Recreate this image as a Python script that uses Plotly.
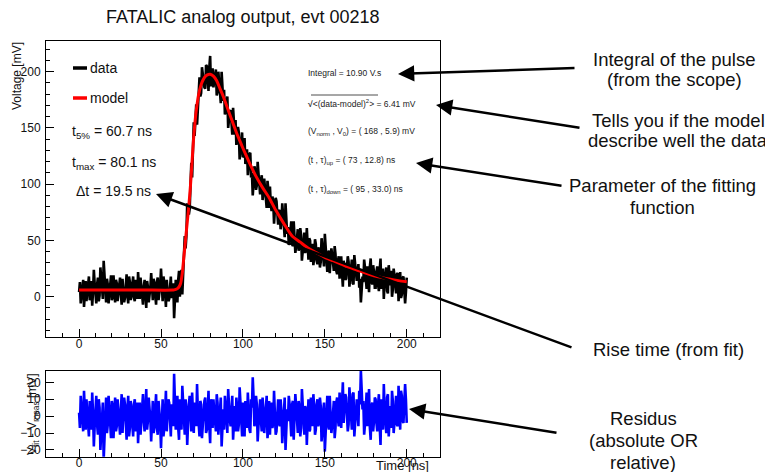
import plotly.graph_objects as go

# the page body has an 8 px margin, so the figure is drawn 8 px in from the window corner
OFF = 8
W, H = 773 - OFF, 472 - OFF

# ---------------- data (scope samples every 0.5 ns) ----------------
time_int = list(range(0, 201))                       # 0, 1, ..., 200 ns
time_half = [t + 0.5 for t in range(0, 200)]         # 0.5, 1.5, ..., 199.5 ns

data_int = [
    4, -6, 9, -9, 14, 2, 18, 0, -8, 24, -2, 11, -4, 26, 3, 32, -1, 16, -6, 10,
    -3, 19, -5, 12, 4, 17, -7, 8, -1, 20, -6, 13, 1, 18, -4, 5, 22, -2, 10, -7,
    15, -10, 9, 0, 21, -3, 12, -7, 17, 2, 25, -4, 13, -9, 8, -2, 18, 1, -19, 15,
    -5, 23, 10, 2, 43, 43, 83, 73, 100, 106, 155, 155, 153, 187, 178, 204, 192, 185, 205, 183,
    214, 191, 186, 198, 179, 200, 178, 200, 174, 162, 177, 150, 164, 149, 168, 144, 135, 151, 122, 140,
    124, 141, 122, 108, 127, 106, 90, 116, 95, 120, 97, 103, 86, 105, 85, 103, 79, 83, 89, 65,
    88, 69, 76, 60, 83, 57, 83, 56, 46, 65, 47, 67, 39, 56, 41, 61, 32, 49, 39, 61,
    33, 50, 37, 28, 51, 32, 44, 26, 52, 33, 56, 26, 39, 21, 43, 26, 45, 23, 32, 16,
    36, 9, 23, 16, 36, 9, 30, 12, 37, 15, 21, 8, -5, 18, 33, 9, 27, 4, 34, 11,
    22, 8, 27, 5, 34, 12, -2, 23, 5, 28, 10, 0, 25, 6, 20, -4, 22, 2, 18, -6,
    17,
]
data_half = [
    13, 2, 15, 0, -4, 9, -3, 14, 4, 12, -6, 17, 1, 14, -2, 18, -5, 11, 3, 19,
    0, 8, 15, -4, 12, 2, 16, -5, 10, 1, 18, -3, 11, -1, 15, -2, 10, 17, 0, 9,
    2, 14, -5, 8, 3, 16, 1, 13, -3, 10, 0, 18, 3, 15, -4, 11, -1, 12, -3, 3,
    15, 0, 24, 22, 54, 54, 76, 78, 119, 127, 143, 171, 173, 195, 181, 196, 186, 206, 193, 204,
    187, 203, 192, 202, 182, 190, 172, 185, 184, 166, 178, 159, 166, 144, 155, 157, 140, 146, 129, 146,
    125, 118, 131, 119, 128, 110, 101, 113, 99, 110, 91, 108, 92, 97, 79, 96, 98, 76, 85, 73,
    85, 64, 77, 66, 71, 53, 70, 62, 50, 67, 45, 56, 45, 60, 44, 55, 39, 57, 41, 46,
    52, 31, 47, 35, 47, 29, 41, 31, 45, 27, 41, 22, 41, 29, 37, 23, 38, 20, 36, 26,
    21, 32, 15, 25, 31, 17, 33, 11, 27, 14, 29, 16, 10, 13, 26, 7, 17, 27, 13, 28,
    8, 22, 11, 24, 7, 25, 13, 26, 3, 18, 23, 6, 19, 3, 21, 9, -1, 17, 6, 4,
]

resid_int = [
    2, 12, -3, 15, -8, 4, -12, 6, 14, -18, 8, -5, 10, -20, 3, -26, 7, -10, 12, -4,
    9, -13, 11, -6, 2, -11, 13, -2, 7, -14, 12, -7, 5, -12, 10, 1, -16, 8, -4, 13,
    -9, 16, -3, 6, -15, 9, -6, 13, -11, 4, -19, 10, -7, 15, -2, 8, -12, 5, 25, -8,
    12, -14, 3, 18, -5, 10, -17, 7, -3, 14, -10, 5, 19, -6, 9, -13, 2, 11, -8, 15,
    -16, 6, 10, -4, 13, -11, 7, -18, 4, 12, -7, 16, -2, 9, -14, 6, 11, -9, 17, -5,
    8, -12, 3, 14, -8, 10, 23, -6, 12, -15, 5, -3, 11, -10, 7, -13, 9, 2, -7, 15,
    -11, 6, -4, 10, -16, 8, -20, 4, 12, -9, 7, -14, 13, -5, 9, -12, 16, -3, 6, -17,
    10, -8, 4, 13, -11, 7, -6, 11, -15, 3, -21, 9, -5, 12, -10, 6, -13, 8, -2, 14,
    -7, 20, 5, 11, -9, 17, -4, 13, -12, 9, 3, 15, 27, 4, -11, 12, -6, 16, -14, 8,
    -3, 10, -9, 13, -17, 5, 19, -7, 11, -12, 6, 15, -10, 9, -5, 18, -8, 12, -4, 19,
    -4,
]
resid_half = [
    -7, 4, -9, 6, 10, -3, 9, -8, 2, -6, 12, -11, 5, -8, 8, -12, 11, -5, 3, -13,
    6, -2, -9, 10, -6, 4, -10, 11, -4, 5, -12, 9, -5, 7, -9, 8, -4, -11, 6, -3,
    4, -8, 11, -2, 3, -10, 5, -7, 9, -4, 6, -12, 3, -9, 10, -5, 7, -6, 9, 4,
    -7, 10, -8, 6, -11, 4, -3, 12, -9, 5, 8, -6, 3, -12, 7, -4, 9, -10, 4, -6,
    10, -7, 3, -9, 8, -3, 11, -5, -8, 6, -10, 5, -6, 12, -3, -9, 4, -5, 8, -12,
    6, 9, -7, 2, -10, 5, 11, -4, 7, -6, 10, -9, 4, -3, 12, -7, -11, 8, -4, 6,
    -9, 10, -6, 3, -5, 11, -8, -3, 7, -12, 9, -4, 6, -10, 5, -7, 8, -11, 4, -2,
    -9, 11, -6, 5, -8, 10, -3, 6, -9, 8, -6, 12, -8, 4, -5, 9, -7, 11, -6, 3,
    8, -4, 13, 2, -5, 9, -8, 14, -3, 10, -6, 7, 12, 9, -5, 14, 3, -7, 6, -9,
    11, -4, 7, -6, 10, -8, 4, -10, 13, -2, -7, 9, -4, 12, -6, 5, 15, -3, 8, 10,
]

model_t = [0, 20, 40, 57, 58, 59, 60, 61, 62, 63, 64, 65, 66, 67, 68, 69, 70, 71, 72, 73,
           74, 75, 76, 77, 78, 80, 82, 84, 86, 88, 90, 92, 94, 96, 98, 100, 104, 108, 112, 116,
           120, 125, 130, 135, 140, 145, 150, 155, 160, 165, 170, 175, 180, 185, 190, 195, 200]
model_mv = [5.9, 5.9, 5.9, 5.9, 6.1, 6.5, 7.2, 8.8, 12, 21, 36, 51, 66, 81, 99, 121, 143, 159, 171, 180,
            186, 190.5, 193.5, 195.8, 197, 197.7, 196, 192, 185, 178, 170, 162, 154, 146, 139, 132, 119, 107, 97, 88,
            77, 65, 54, 48.5, 43, 39, 35, 32, 29, 26, 23.5, 21, 18.7, 17, 15.5, 14.3, 13.3]

x_ticks = [0, 50, 100, 150, 200]
y_ticks = [0, 50, 100, 150, 200]
r_ticks = [-20, -10, 0, 10, 20]

title_text = "FATALIC analog output, evt 00218"
legend_labels = ["data", "model"]
fit_texts = ["t<sub>5%</sub> = 60.7 ns", "t<sub>max</sub> = 80.1 ns", "\u0394t = 19.5 ns"]
info_texts = [
    "Integral = 10.90 V.s",
    "<b>\u221a</b>&lt;(data-model)<sup>2</sup>&gt; = 6.41 mV",
    "(V<sub>norm</sub> , V<sub>0</sub>) = ( 168 , 5.9) mV",
    "(t , \u03c4)<sub>up</sub> = ( 73 , 12.8) ns",
    "(t , \u03c4)<sub>down</sub> = ( 95 , 33.0) ns",
]
callouts = [
    ["Integral of the pulse", "(from the scope)"],
    ["Tells you if the model", "describe well the data"],
    ["Parameter of the fitting", "function"],
    ["Rise time (from fit)"],
    ["Residus", "(absolute OR", "relative)"],
]


def interleave(a_int, a_half):
    out = []
    for a, b in zip(a_int, a_half):
        out.extend([a, b])
    out.append(a_int[-1])
    return out


time_ns = interleave(time_int, time_half)
data_mv = interleave(data_int, data_half)
resid_mv = interleave(resid_int, resid_half)

# ---------------- helpers: window pixels -> paper fractions ----------------
def px(x):
    return (x - OFF) / W

def py(y):
    return 1 - (y - OFF) / H

FONT = "Liberation Sans, Arial, Helvetica, sans-serif"

fig = go.Figure()
fig.add_trace(go.Scatter(x=time_ns, y=data_mv, mode="lines",
                         line=dict(color="black", width=2.6), xaxis="x", yaxis="y",
                         showlegend=False, hoverinfo="skip"))
fig.add_trace(go.Scatter(x=model_t, y=model_mv, mode="lines",
                         line=dict(color="#ff0000", width=3, shape="spline", smoothing=0.6),
                         xaxis="x", yaxis="y", showlegend=False))
fig.add_trace(go.Scatter(x=time_ns, y=resid_mv, mode="lines",
                         line=dict(color="#0000ff", width=2.6), xaxis="x2", yaxis="y2",
                         showlegend=False))

axis_common = dict(showgrid=False, zeroline=False, showline=True, linecolor="black",
                   linewidth=1, mirror=True, ticks="inside", ticklen=8, tickcolor="black",
                   automargin=False,
                   tickfont=dict(family=FONT, size=12, color="#111"))
minor_x = dict(ticks="inside", ticklen=4, dtick=10, tick0=0, tickcolor="black")

fig.update_layout(
    width=W, height=H, margin=dict(l=0, r=0, t=0, b=0, autoexpand=False),
    paper_bgcolor="white", plot_bgcolor="white",
    xaxis=dict(domain=[px(46), px(440)], range=[-20.2, 220.3], anchor="y",
               tickvals=x_ticks, minor=minor_x, ticklabelstandoff=-4, **axis_common),
    yaxis=dict(domain=[py(337), py(41)], range=[-35.8, 227.3], anchor="x",
               tickvals=y_ticks, minor=minor_x, ticklabelstandoff=2, **axis_common),
    xaxis2=dict(domain=[px(46), px(440)], range=[-20.2, 220.3], anchor="y2",
                tickvals=x_ticks, minor=minor_x, ticklabelstandoff=-5, **axis_common),
    yaxis2=dict(domain=[py(456.7), py(371)], range=[-24, 26.7], anchor="x2",
                tickvals=r_ticks, ticklabelstandoff=2, **axis_common),
)

ann = []
ann.append(dict(text=title_text, x=px(243), y=py(17), xref="paper", yref="paper",
                showarrow=False, font=dict(family=FONT, size=18, color="#111"),
                xanchor="center", yanchor="middle"))
ann.append(dict(text="Voltage [mV]", x=px(17), y=py(40), xref="paper", yref="paper",
                showarrow=False, textangle=-90, font=dict(family=FONT, size=12, color="#111"),
                xanchor="center", yanchor="top"))
ann.append(dict(text="V<sub>fit</sub> - V<sub>meas</sub> [mV]", x=px(33), y=py(414),
                xref="paper", yref="paper", showarrow=False, textangle=-90,
                font=dict(family=FONT, size=12, color="#111"), xanchor="center", yanchor="middle"))
ann.append(dict(text="Time [ns]", x=px(431), y=py(465), xref="paper", yref="paper",
                showarrow=False, font=dict(family=FONT, size=13, color="#111"),
                xanchor="right", yanchor="middle"))
for lbl, yy in zip(legend_labels, [68, 98]):
    ann.append(dict(text=lbl, x=px(88), y=py(yy), xref="paper", yref="paper", showarrow=False,
                    font=dict(family=FONT, size=14, color="#111"), xanchor="left", yanchor="middle"))
shapes = [
    dict(type="line", xref="paper", yref="paper", x0=px(73), x1=px(87), y0=py(68), y1=py(68),
         line=dict(color="black", width=3.5)),
    dict(type="line", xref="paper", yref="paper", x0=px(73), x1=px(87), y0=py(98), y1=py(98),
         line=dict(color="#ff0000", width=3.5)),
    dict(type="line", xref="paper", yref="paper", x0=px(311), x1=px(378), y0=py(95), y1=py(95),
         line=dict(color="#222", width=0.8)),
]
for txt, xx, yy in zip(fit_texts, [70, 70, 74], [132, 163, 191]):
    ann.append(dict(text=txt, x=px(xx), y=py(yy), xref="paper", yref="paper", showarrow=False,
                    font=dict(family=FONT, size=14, color="#111"), xanchor="left", yanchor="middle"))
for txt, yy in zip(info_texts, [73, 103, 131, 160, 189]):
    ann.append(dict(text=txt, x=px(306), y=py(yy), xref="paper", yref="paper", showarrow=False,
                    font=dict(family=FONT, size=8.5, color="#222"), xanchor="left", yanchor="middle"))
callout_pos = [(674, [60, 80]), (678, [120, 140]), (662, [185, 207]), (668, [349]),
               (643, [418, 440, 462])]
for lines, (cx, ys) in zip(callouts, callout_pos):
    for line, yy in zip(lines, ys):
        ann.append(dict(text=line, x=px(cx), y=py(yy), xref="paper", yref="paper",
                        showarrow=False, font=dict(family=FONT, size=18.5, color="#111"),
                        xanchor="center", yanchor="middle"))
arrows = [(576, 68, 398, 74), (581, 128, 436, 105), (563, 186, 416, 163),
          (573, 348, 156, 194), (558, 433, 409, 409)]
for tx, ty, hx, hy in arrows:
    ann.append(dict(text="", x=px(hx), y=py(hy), xref="paper", yref="paper",
                    ax=tx - hx, ay=ty - hy, showarrow=True, arrowhead=2, arrowsize=1.3,
                    arrowwidth=2.5, arrowcolor="black", standoff=0))

fig.update_layout(annotations=ann, shapes=shapes)
fig.write_html("out.html")
